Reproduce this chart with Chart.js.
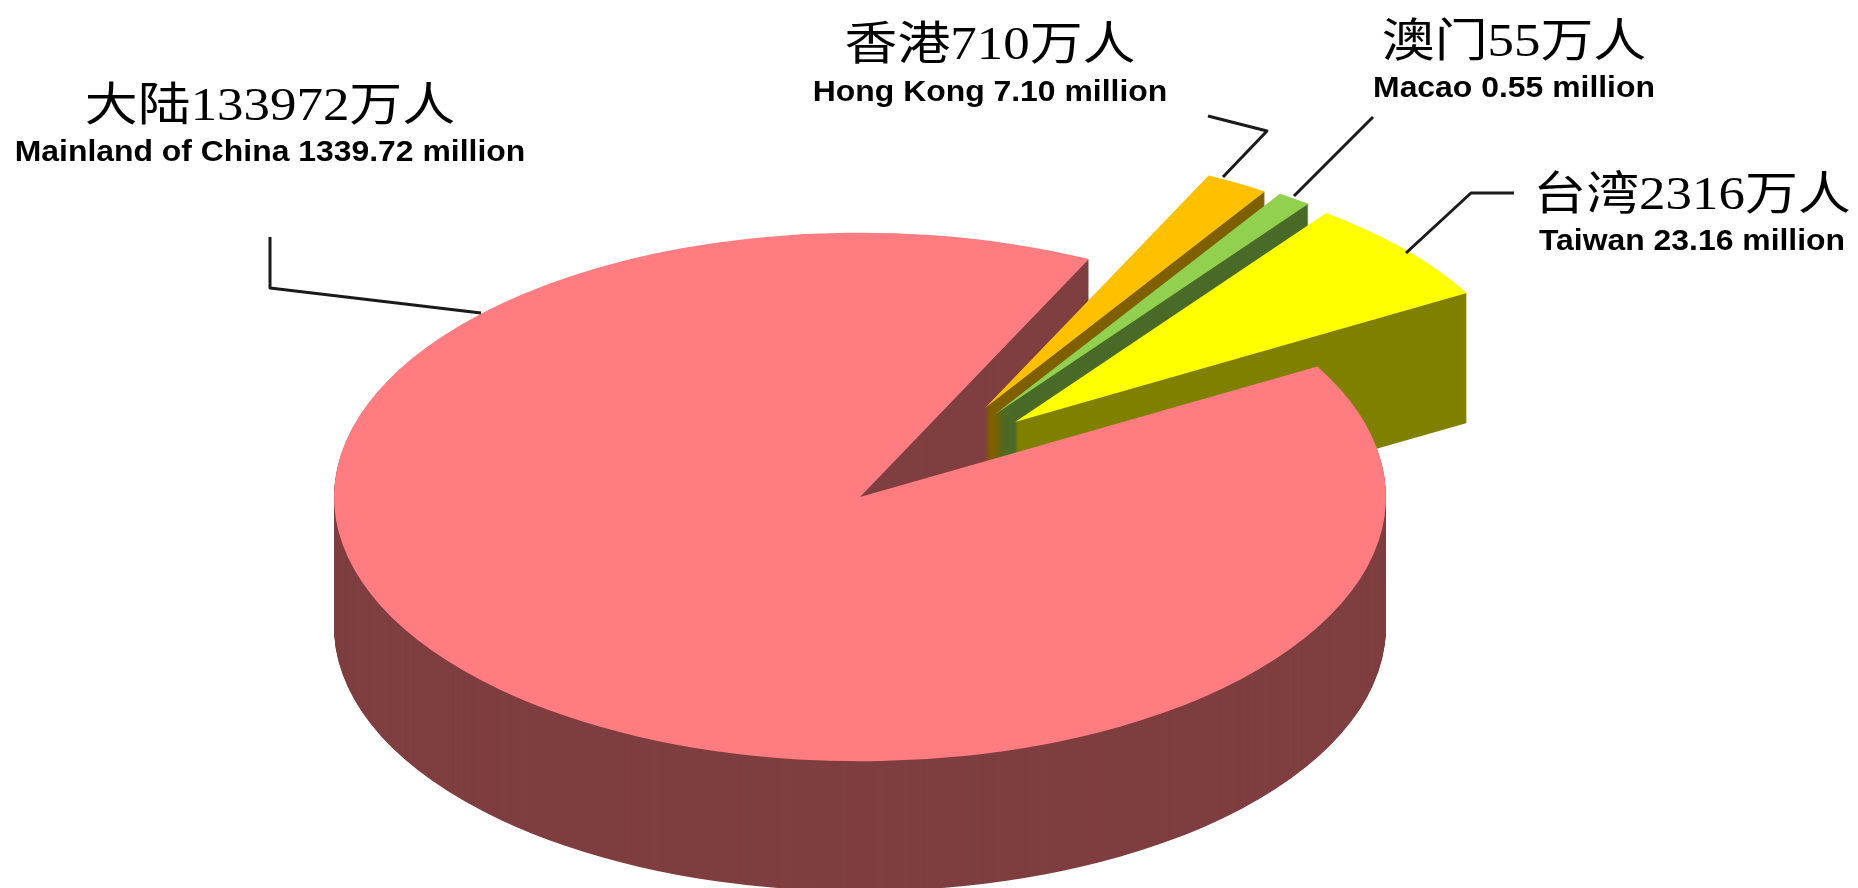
<!DOCTYPE html>
<html>
<head>
<meta charset="utf-8">
<title>人口</title>
<script src="https://cdn.jsdelivr.net/npm/chart.js@4/dist/chart.umd.min.js"></script>
<style>
    html, body { margin: 0; padding: 0; background: #fff; overflow: hidden; }
    canvas { display: block; }
</style>
</head>
<body>
<canvas id="grafico" width="1858" height="888"></canvas>
<script>
// clockwise from the mainland's first cut edge
var regioni = ["香港", "澳门", "台湾", "大陆"];
var regioniEn = ["Hong Kong", "Macao", "Taiwan", "Mainland of China"];
var popolazioneWan = ["710", "55", "2316", "133972"];
var popolazioneMilioni = ["7.10", "0.55", "23.16", "1339.72"];
// the slices in the picture are not to scale, these are the angles read off it
var gradiFetta = [7.2, 3.8, 23.6, 325.4];

var coloriSopra = ["#ffc000", "#92d050", "#ffff00", "#ff7c80"];
var coloriLato = ["#7f6000", "#4a6b28", "#808000", "#7f3e40"];

// exploded slices: chart.js offset also eats into thin slices, so they are moved here
var stacco = [[125, -89], [134, -82], [155, -75], [0, 0]];
var scalaFetta = [0.977, 0.998, 0.988, 1];

var schiacciamento = 0.5024;
var spessore = 130;

// where the labels sit, same order as regioni
var etichette = [
    { x: 990, y: 59, yEn: 101, line: [[1208, 116], [1267, 131], [1223, 177]] },
    { x: 1514, y: 56, yEn: 97, line: [[1373, 117], [1294, 196]] },
    { x: 1692, y: 209, yEn: 250, line: [[1514, 193], [1471, 193], [1406, 253]] },
    { x: 270, y: 120, yEn: 161, line: [[270, 237], [270, 288], [481, 313]] }
];

function testoLargo(ctx, testo, x, y, largo) {
    ctx.save();
    ctx.translate(x, y);
    ctx.scale(largo, 1);
    ctx.fillText(testo, 0, 0);
    ctx.restore();
}

var torta3d = {
    id: "torta3d",
    beforeDatasetsDraw: function (chart) {
        var ctx = chart.ctx;
        var archi = chart.getDatasetMeta(0).data;
        for (var d = spessore; d >= 0; d--) {
            for (var i = 0; i < archi.length; i++) {
                var arco = archi[i];
                var opzioni = arco.options;
                arco.options = Object.create(opzioni);
                arco.options.backgroundColor = d === 0 ? coloriSopra[i] : coloriLato[i];
                ctx.save();
                ctx.translate(arco.x + stacco[i][0], arco.y + stacco[i][1] + d);
                ctx.scale(scalaFetta[i], schiacciamento * scalaFetta[i]);
                ctx.translate(-arco.x, -arco.y);
                arco.draw(ctx);
                ctx.restore();
                arco.options = opzioni;
            }
        }
        return false;
    },
    afterDraw: function (chart) {
        var ctx = chart.ctx;
        ctx.save();
        ctx.strokeStyle = "#1a1a1a";
        ctx.lineWidth = 3;
        ctx.lineJoin = "round";
        ctx.fillStyle = "#000";
        ctx.textAlign = "center";
        for (var i = 0; i < regioni.length; i++) {
            var e = etichette[i];
            ctx.beginPath();
            ctx.moveTo(e.line[0][0], e.line[0][1]);
            for (var k = 1; k < e.line.length; k++) {
                ctx.lineTo(e.line[k][0], e.line[k][1]);
            }
            ctx.stroke();

            ctx.font = '46px "Liberation Serif", "Noto Sans CJK SC"';
            testoLargo(ctx, regioni[i] + popolazioneWan[i] + "万人", e.x, e.y, 1.15);
            ctx.font = 'bold 29px "Liberation Sans"';
            testoLargo(ctx, regioniEn[i] + " " + popolazioneMilioni[i] + " million", e.x, e.yEn, 1.1);
        }
        ctx.restore();
    }
};

var grafico = new Chart(document.getElementById("grafico"), {
    type: "pie",
    data: {
        labels: regioni,
        datasets: [{
            data: gradiFetta,
            backgroundColor: coloriSopra,
            borderWidth: 0
        }]
    },
    options: {
        responsive: false,
        animation: false,
        rotation: 25.8,
        radius: 526,
        layout: { padding: { right: 138, top: 106 } },
        plugins: {
            legend: { display: false },
            tooltip: { enabled: false }
        }
    },
    plugins: [torta3d]
});
</script>
</body>
</html>
